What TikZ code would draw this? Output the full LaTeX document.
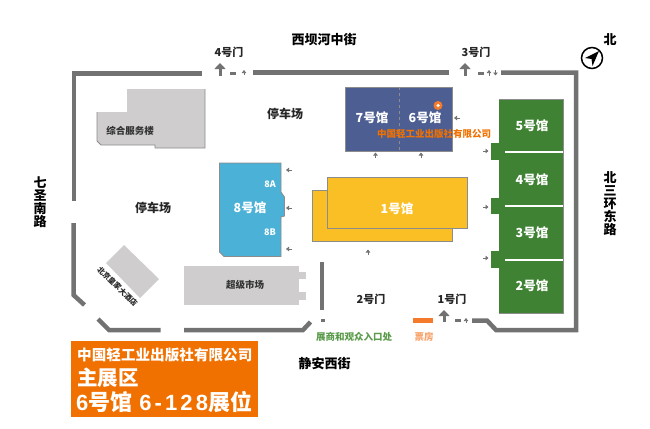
\documentclass[tikz,border=0pt]{standalone}
\usepackage{fontspec}
\setmainfont{Noto Sans CJK SC}
\newfontfamily\boxdigits[LetterSpace=14]{Liberation Sans}
\usetikzlibrary{arrows,arrows.meta,shapes,positioning,calc}

\definecolor{wallgray}{HTML}{727272}
\definecolor{bldgray}{HTML}{CFCDCE}
\definecolor{edgegray}{HTML}{8C8C8C}
\definecolor{hallblue}{HTML}{4BB1D6}
\definecolor{hallnavy}{HTML}{4C5E92}
\definecolor{hallyellow}{HTML}{FBBF26}
\definecolor{hallgreen}{HTML}{3F8234}
\definecolor{boxorange}{HTML}{F07000}
\definecolor{ticketorange}{HTML}{F47B2B}
\definecolor{entrygreen}{HTML}{5A9A4A}

\tikzset{
  wall/.style={draw=wallgray, line width=4.5pt},
  hall/.style={draw=edgegray, line width=0.8pt},
  road/.style={font=\bfseries\fontsize{13}{13}\selectfont, inner sep=0pt, align=center},
  gate/.style={font=\bfseries\fontsize{11}{11}\selectfont, text=black!85, inner sep=0pt},
  park/.style={font=\bfseries\fontsize{12}{12}\selectfont, text=black!85, inner sep=0pt},
  hallname/.style={font=\bfseries\fontsize{12.5}{12.5}\selectfont, text=white, inner sep=0pt},
  bldname/.style={font=\bfseries\fontsize{9.5}{9.5}\selectfont, text=black!80, inner sep=0pt},
  bigarrow/.style={draw=wallgray, line width=3pt, -{Triangle[length=6pt,width=11pt]}},
  tinyarrow/.style={draw=wallgray, line width=1pt, -{Triangle[length=3pt,width=4.5pt]}},
  gatedash/.style={fill=wallgray, minimum width=6pt, minimum height=3.5pt, inner sep=0pt}
}

\begin{document}
\begin{tikzpicture}[x=1pt,y=-1pt]
\useasboundingbox (0,0) rectangle (650,428);

% Walls
\draw[wall] (201.5,73.5) -- (74,73.5) -- (74,201);
\draw[wall] (253,72.5) -- (449,72.5);
\draw[wall] (501,72.5) -- (576,72.5) -- (576,330) -- (496,330) -- (487,320.5) -- (472,320.5);
\draw[wall] (73.5,223) -- (73.5,295) -- (84.5,305);
\draw[wall] (98,319) -- (109,330) -- (160.5,330);
\draw[wall] (184,330) -- (303,330) -- (310.5,322);
\draw[wall] (322,262) -- (322,310);

% Buildings
\fill[bldgray] (127,89) -- (205,89) -- (205,148) -- (155,148) -- (155,145) -- (101,145) -- (97,141) -- (97,112) -- (127,112) -- cycle;
\draw[edgegray, line width=0.8pt] (97,112) -- (97,141) -- (101,145) -- (155,145) -- (155,148) -- (205,148) -- (205,89);
\fill[bldgray] (184,266) rectangle (299,305);
\fill[bldgray] (299,272) rectangle (306,279);
\fill[bldgray] (299,292) rectangle (306,300);
\fill[bldgray] (124,245) -- (159,279) -- (140,298) -- (106,263) -- cycle;

% Halls
\draw[hall, fill=hallblue] (219.5,163) -- (281,163) -- (281,192) -- (284.5,197) -- (284.5,216) -- (281,217) -- (281,256.5) -- (224,256.5) -- (219.5,252) -- cycle;
\draw[hall, fill=hallyellow] (312.5,190) rectangle (452.7,241);
\draw[hall, fill=hallyellow] (327.5,177.5) rectangle (467.7,228);
\draw[hall, fill=hallnavy] (345,87) rectangle (452,151);
\draw[edgegray, line width=1pt, dashed] (399,87) -- (399,151);
\fill[hallgreen] (499,99) rectangle (563,313);
\draw[edgegray, line width=0.8pt] (499,99) -- (563,99) -- (563,313) -- (499,313);
\fill[hallgreen] (491,143) rectangle (499,160);
\fill[hallgreen] (491,197.5) rectangle (499,214);
\fill[hallgreen] (491,251) rectangle (499,268);
\draw[white, line width=1.8pt] (505,152) -- (563,152);
\draw[white, line width=1.8pt] (505,206) -- (563,206);
\draw[white, line width=1.8pt] (505,260) -- (563,260);

% Hall names
\node[hallname] (hall8) at (250,208) {8号馆};
\node[hallname, font=\bfseries\fontsize{9}{9}\selectfont] (hall8a) at (270,184) {8A};
\node[hallname, font=\bfseries\fontsize{9}{9}\selectfont] (hall8b) at (270,232) {8B};
\node[hallname] (hall1) at (397,209) {1号馆};
\node[hallname] (hall7) at (372,118) {7号馆};
\node[hallname] (hall6) at (425,118) {6号馆};
\node[hallname] (hall5) at (532,126) {5号馆};
\node[hallname] (hall4) at (532,180) {4号馆};
\node[hallname] (hall3) at (532,233) {3号馆};
\node[hallname] (hall2) at (532,286) {2号馆};

% Booth marker
\node[circle, fill=ticketorange, minimum size=9pt, inner sep=0pt] (booth) at (438,105.5) {};
\node[circle, fill=white, minimum size=3.5pt, inner sep=0pt] at (booth) {};
\node[font=\bfseries\fontsize{9.5}{9.5}\selectfont, text=boxorange, inner sep=0pt] (company) at (434,134) {中国轻工业出版社有限公司};

% Other buildings
\node[bldname] (service) at (130,131) {综合服务楼};
\node[bldname] (market) at (245,285) {超级市场};
\node[font=\bfseries\fontsize{7.5}{7.5}\selectfont, text=black!85, inner sep=0pt, rotate=-44] (hotel) at (117.5,286.5) {北京皇家大酒店};

% Streets
\node[road] (north) at (324,40) {西坝河中街};
\node[road] (south) at (324.5,364) {静安西街};
\node[road] (west) at (40,202.5) {七\\圣\\南\\路};
\node[road] (east) at (610,203.5) {北\\三\\环\\东\\路};

% Gates
\node[gate] (gate4) at (229,52) {4号门};
\node[gate] (gate3) at (476,52) {3号门};
\node[gate] (gate2) at (371,299.5) {2号门};
\node[gate] (gate1) at (452,299.5) {1号门};
\node[park] (park1) at (285,114) {停车场};
\node[park] (park2) at (153,208) {停车场};

% Gate marks
\draw[bigarrow] (220,75.5) -- (220,63);
\draw[bigarrow] (465,75.5) -- (465,63);
\draw[bigarrow] (444,322) -- (444,310);
\node[gatedash] (dash4) at (233,73.5) {};
\node[gatedash] (dash3) at (481,73.5) {};
\node[gatedash] (dash1) at (458,320.5) {};
\node[gatedash, minimum width=4pt] (dash2) at (323,320.5) {};
\draw[tinyarrow] (244,75) -- (244,70);
\draw[tinyarrow] (489,75.5) -- (489,70);
\draw[tinyarrow] (495.5,70) -- (495.5,75.5);
\draw[tinyarrow] (466,323) -- (466,318);

% Hall entrances
\foreach \ypos in {170,208,249} {
  \draw[tinyarrow] (292,\ypos) -- (286,\ypos);
}
\draw[tinyarrow] (460,118) -- (454,118);
\draw[tinyarrow] (375.5,158) -- (375.5,152.5);
\draw[tinyarrow] (421,158) -- (421,152.5);
\draw[tinyarrow] (368,255) -- (368,249.5);
\foreach \ypos in {151,207,258} {
  \draw[tinyarrow] (483,\ypos) -- (488.5,\ypos);
}

% Entrance legend
\node[font=\bfseries\fontsize{9.5}{9.5}\selectfont, text=entrygreen, inner sep=0pt] (entry) at (354,337) {展商和观众入口处};
\node[fill=ticketorange, minimum width=20pt, minimum height=4.5pt, inner sep=0pt] (ticketbar) at (423,320.5) {};
\node[font=\bfseries\fontsize{9.5}{9.5}\selectfont, text=ticketorange!70, inner sep=0pt] (ticket) at (424,337) {票房};

% Compass
\node[road] (northmark) at (610,40) {北};
\node[circle, draw=black, line width=1.5pt, fill=white, minimum size=21pt, inner sep=0pt] (compass) at (592,58) {};
\fill[black] (599,51) -- (592.5,66) -- (591.5,59) -- (585,58) -- cycle;

% Exhibitor box
\fill[boxorange] (70.5,341) rectangle (257.5,417);
\node[anchor=west, text=white, inner sep=0pt, font=\bfseries\fontsize{14.6}{14.6}\selectfont] (boxline1) at (77,355) {中国轻工业出版社有限公司};
\node[anchor=west, text=white, inner sep=0pt, font=\bfseries\fontsize{20.5}{20.5}\selectfont] (boxline2) at (77,378) {主展区};
\node[anchor=west, text=white, inner sep=0pt, font=\bfseries\fontsize{22}{22}\selectfont] (boxline3) at (76,402) {{\boxdigits\bfseries 6}号馆\hspace{7pt}{\boxdigits\bfseries 6-128}展位};

\end{tikzpicture}
\end{document}
